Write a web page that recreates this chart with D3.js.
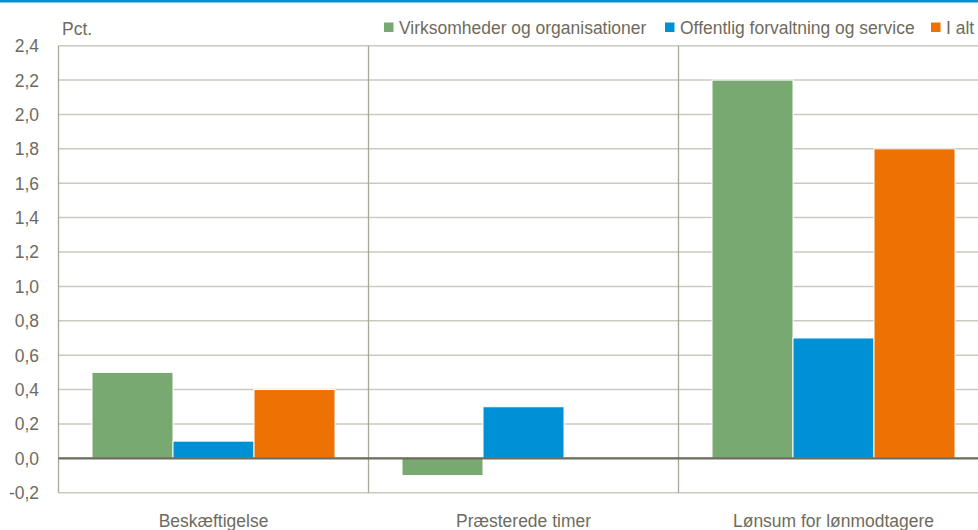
<!DOCTYPE html>
<html><head><meta charset="utf-8">
<script src="https://cdn.jsdelivr.net/npm/d3@7"></script>
<style>
html,body{margin:0;padding:0;background:#fff;}
svg{display:block;}
text{font-family:"Liberation Sans",Arial,sans-serif;fill:#6e6b5e;}
</style></head>
<body><svg id="c" width="978" height="530"></svg>
<script>
const categories = ["Beskæftigelse", "Præsterede timer", "Lønsum for lønmodtagere"];
const seriesNames = ["Virksomheder og organisationer", "Offentlig forvaltning og service", "I alt"];
const virksomheder = [0.5, -0.1, 2.2];
const offentlig = [0.1, 0.3, 0.7];
const iAlt = [0.4, 0.0, 1.8];
const yTicks = [-0.2, 0, 0.2, 0.4, 0.6, 0.8, 1.0, 1.2, 1.4, 1.6, 1.8, 2.0, 2.2, 2.4];
const colors = ["#78a970", "#0091d4", "#ee7203"];
const unitLabel = "Pct.";

const series = [virksomheder, offentlig, iAlt];
const svg = d3.select("#c");
const W = 978, H = 530, FS = 18.5, SX = 0.945;
const left = 58.5, bandW = 310;
const x0 = d3.scaleBand().domain(categories).range([left, left + bandW * 3]).padding(0);
const x1 = d3.scaleBand().domain(d3.range(3)).range([33.5, 276.5]).padding(0);
const y = d3.scaleLinear().domain([-0.2, 2.4]).range([492.7, 45.7]);
const fmt = v => d3.format(".1f")(v).replace(".", ",").replace("−", "-");
const place = (fx, fy) => (d, i) => `translate(${fx(d, i)},${fy(d, i)}) scale(${SX},1)`;

// top blue rule
svg.append("rect").attr("x", 0).attr("y", 0).attr("width", W).attr("height", 2.5).attr("fill", "#0091d4");

// gridlines
svg.append("g").selectAll("line").data(yTicks).join("line")
  .attr("x1", left).attr("x2", W)
  .attr("y1", d => y(d)).attr("y2", d => y(d))
  .attr("stroke", "#cbc9bf").attr("stroke-width", 1.5);

// y axis line
svg.append("line").attr("x1", left).attr("x2", left).attr("y1", y(2.4)).attr("y2", y(-0.2))
  .attr("stroke", "#a9a797").attr("stroke-width", 1.3);
// category separators
svg.append("g").selectAll("line").data(categories.slice(1)).join("line")
  .attr("x1", d => x0(d)).attr("x2", d => x0(d))
  .attr("y1", y(2.4)).attr("y2", y(-0.2))
  .attr("stroke", "#a9a797").attr("stroke-width", 1.3);

// tick labels
svg.append("g").selectAll("text").data(yTicks).join("text")
  .attr("transform", place(() => 39, d => y(d))).attr("dy", "0.35em")
  .attr("text-anchor", "end").attr("font-size", FS).text(fmt);

// bars
const rows = [];
categories.forEach((c, i) => series.forEach((s, j) => rows.push({c, j, v: s[i]})));
svg.append("g").selectAll("rect").data(rows).join("rect")
  .attr("x", d => x0(d.c) + x1(d.j))
  .attr("width", x1.bandwidth())
  .attr("y", d => y(Math.max(0, d.v)))
  .attr("height", d => Math.abs(y(d.v) - y(0)))
  .attr("fill", d => colors[d.j])
  .attr("stroke", "#fff").attr("stroke-width", 1);

// zero line
svg.append("line").attr("x1", left).attr("x2", W).attr("y1", y(0)).attr("y2", y(0))
  .attr("stroke", "#6f6c5f").attr("stroke-width", 2.2);

// category labels
svg.append("g").selectAll("text").data(categories).join("text")
  .attr("transform", place(d => x0(d) + bandW / 2, () => 526.5))
  .attr("text-anchor", "middle").attr("font-size", FS).text(d => d);

// unit label
svg.append("text").attr("transform", `translate(62,35) scale(${SX},1)`).attr("font-size", FS).text(unitLabel);

// legend
const legX = [384, 665, 931];
const lg = svg.append("g").selectAll("g").data(seriesNames).join("g")
  .attr("transform", (d, i) => `translate(${legX[i]},0)`);
lg.append("rect").attr("x", 0).attr("y", 22.5).attr("width", 9.5).attr("height", 9.5).attr("fill", (d, i) => colors[i]);
lg.append("text").attr("transform", `translate(15,33.5) scale(${SX},1)`).attr("font-size", FS).text(d => d);
</script></body></html>
